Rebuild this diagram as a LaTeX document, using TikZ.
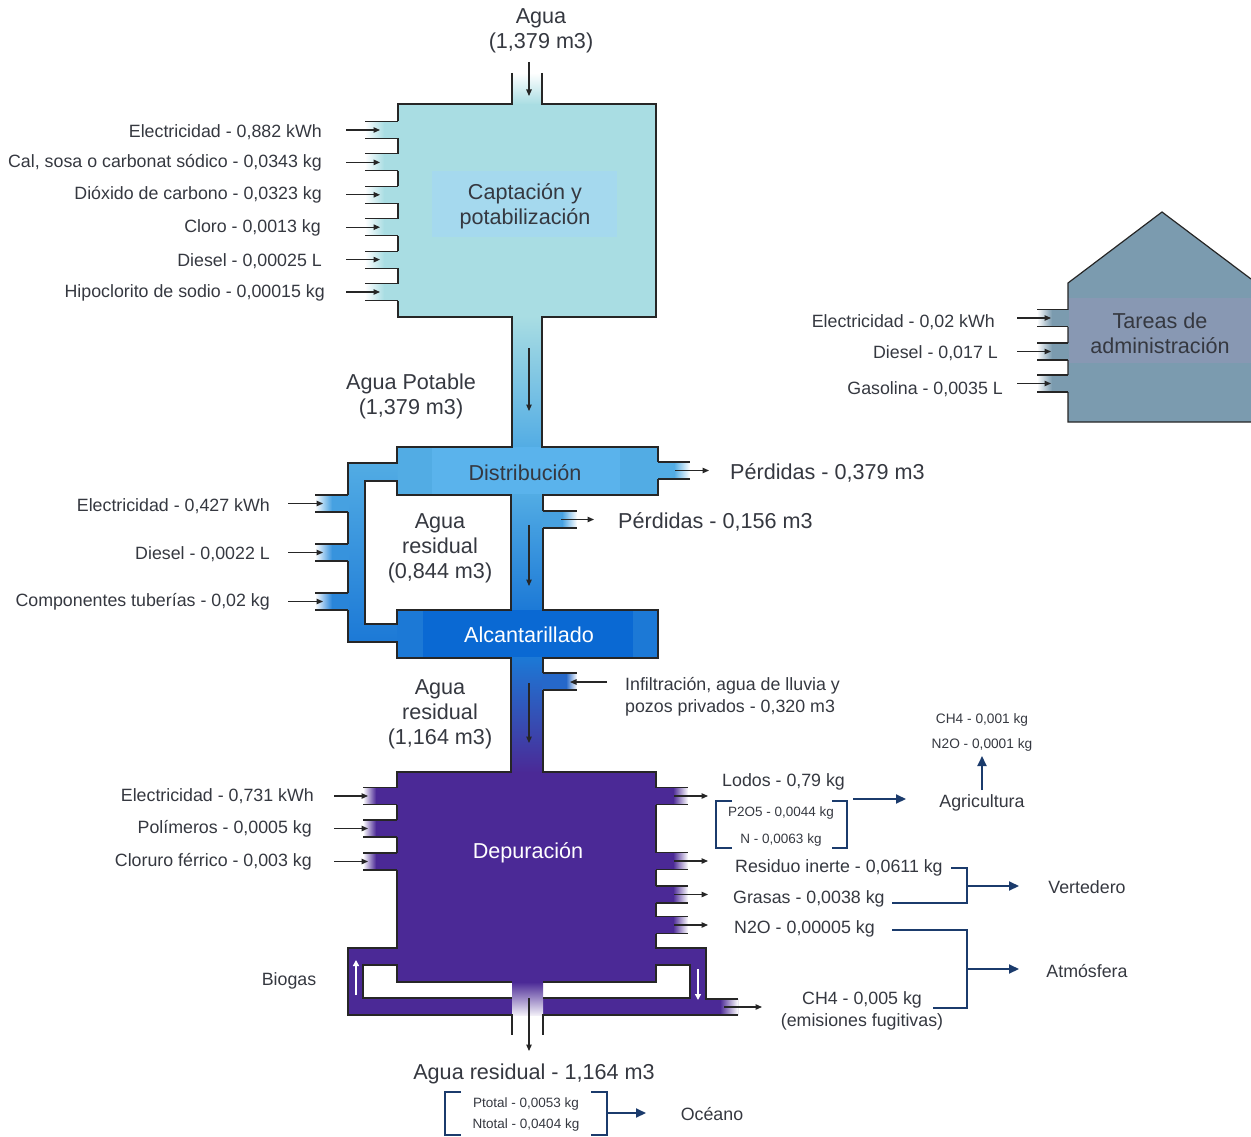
\documentclass[tikz,border=0pt]{standalone}
\usepackage{fontspec}
\setmainfont{Liberation Sans}
\usetikzlibrary{arrows.meta}

\definecolor{txt}{HTML}{353840}
\definecolor{edge}{HTML}{262626}
\definecolor{capt}{HTML}{A9DDE3}
\definecolor{captlab}{HTML}{A5D9EE}
\definecolor{dist}{HTML}{52ACE4}
\definecolor{distlab}{HTML}{5AB3EC}
\definecolor{alc}{HTML}{1C79D6}
\definecolor{alclab}{HTML}{0A69D3}
\definecolor{dep}{HTML}{4B2996}
\definecolor{house}{HTML}{7B9BAF}
\definecolor{houselab}{HTML}{8898B3}
\definecolor{navy}{HTML}{1B3B6C}

\newcommand{\stubLeft}[5]{%
  \shade[left color=white,right color=#4] (#1,#3-8.5) rectangle (#5,#3+8.5);
  \fill[#4] (#5-0.3,#3-8.5) rectangle (#2,#3+8.5);
  \draw[wall] (#1,#3-8.5) -- (#2-1,#3-8.5) (#1,#3+8.5) -- (#2-1,#3+8.5);}
\newcommand{\stubRight}[5]{%
  \fill[#4] (#1,#3-8.5) rectangle (#5+0.3,#3+8.5);
  \shade[left color=#4,right color=white] (#5,#3-8.5) rectangle (#2,#3+8.5);
  \draw[wall] (#1+1,#3-8.5) -- (#2,#3-8.5) (#1+1,#3+8.5) -- (#2,#3+8.5);}

\tikzset{
  wall/.style={draw=edge, line width=1.2pt},
  flowarr/.style={draw=edge, line width=1.2pt, -{Triangle[length=6.5pt,width=5.5pt]}},
  whitearr/.style={draw=white, line width=2pt, -{Triangle[length=6pt,width=6pt]}},
  navyarrow/.style={draw=navy, line width=2pt, -{Triangle[length=10pt,width=9pt]}},
  brk/.style={draw=navy, line width=1.8pt},
  lblmid/.style={text=txt, font=\fontsize{17.8}{22}\selectfont, inner sep=0pt, align=left},
  lblbig/.style={text=txt, font=\fontsize{21.6}{25}\selectfont, inner sep=0pt, align=center},
  lblsmall/.style={text=txt, font=\fontsize{13.7}{21}\selectfont, inner sep=0pt, align=center},
}

\begin{document}
\begin{tikzpicture}[x=1pt,y=-1pt]
\useasboundingbox (0,0) rectangle (1251,1137);

% ================= fills =================
% Captacion
\shade[top color=white, bottom color=capt] (512,73) rectangle (542,104.5);
\fill[capt] (398,104) rectangle (656,317);
\fill[captlab] (432,171) rectangle (617,237);
\shade[top color=capt, bottom color=dist] (512,316) rectangle (542,448);
% Distribucion / Alcantarillado
\fill[dist] (397,447) rectangle (658,495);
\fill[distlab] (432,447) rectangle (620,495);
\shade[top color=dist, bottom color=alc] (348,463) -- (397.5,463) -- (397.5,481) -- (365,481) -- (365,624) -- (397.5,624) -- (397.5,642) -- (348,642) -- cycle;
\shade[top color=dist, bottom color=alc] (511,494) rectangle (543,611);
\fill[alc] (397,610) rectangle (658,658);
\fill[alclab] (423,610) rectangle (633,658);
\shade[top color=alc, bottom color=dep] (511,657) rectangle (543,773);
% Depuracion
\fill[dep] (397,772) -- (656,772) -- (656,948) -- (706,948) -- (706,999) -- (738,999) -- (738,1015) -- (348,1015) -- (348,948) -- (397,948) -- cycle;
\fill[white] (363,965) -- (397,965) -- (397,982) -- (512,982) -- (512,998) -- (363,998) -- cycle;
\fill[white] (543,982) -- (656,982) -- (656,965) -- (690,965) -- (690,998) -- (543,998) -- cycle;
\shade[top color=dep, bottom color=dep!8] (512,982) rectangle (543,1015);
\shade[left color=dep, right color=white] (720,999) rectangle (738,1015);
% House
\fill[house] (1068,422) -- (1068,283) -- (1162,212) -- (1251,279) -- (1251,422) -- cycle;
\fill[houselab] (1068,298) rectangle (1251,363);

% ================= outlines =================
\draw[wall] (512,73) -- (512,104) -- (398,104) -- (398,317) -- (512,317) -- (512,447) -- (397,447) -- (397,463) -- (348,463) -- (348,642) -- (397,642) -- (397,658) -- (511,658) -- (511,772) -- (397,772) -- (397,948) -- (348,948) -- (348,1015) -- (512,1015) -- (512,1035);
\draw[wall] (542,73) -- (542,104) -- (656,104) -- (656,317) -- (542,317) -- (542,447) -- (658,447) -- (658,495) -- (543,495) -- (543,610) -- (658,610) -- (658,658) -- (543,658) -- (543,772) -- (656,772) -- (656,948) -- (706,948) -- (706,999) -- (738,999);
\draw[wall] (738,1015) -- (543,1015) -- (543,1035);
\draw[wall] (397,495) -- (397,481) -- (365,481) -- (365,624) -- (397,624) -- (397,610) -- (511,610) -- (511,495) -- cycle;
\draw[wall] (512,982) -- (397,982) -- (397,965) -- (363,965) -- (363,998) -- (512,998);
\draw[wall] (543,998) -- (690,998) -- (690,965) -- (656,965) -- (656,982) -- (543,982);
\draw[wall] (1251,422) -- (1068,422) -- (1068,283) -- (1162,212) -- (1251,279);

% ================= stubs =================
\foreach \y in {130,162.4,194.8,227.2,259.6,292}{\stubLeft{365}{399}{\y}{capt}{384}}
\stubLeft{315}{349}{503.5}{alc!22!dist}{332}
\stubLeft{315}{349}{552.5}{alc!50!dist}{332}
\stubLeft{315}{349}{601.5}{alc!77!dist}{332}
\stubRight{657}{690}{470.5}{dist}{674}
\stubRight{542}{577}{519.5}{alc!21!dist}{562}
\stubRight{542}{577}{681.5}{dep!21!alc}{566}
\foreach \y in {796,828.5,861.5}{\stubLeft{363}{398}{\y}{dep}{376}}
\foreach \y in {796,861,894.5,925}{\stubRight{655}{688}{\y}{dep}{673}}
\foreach \y in {318,351.5,383.5}{\stubLeft{1037}{1069}{\y}{house}{1052}}

% ================= flow arrows =================
\coordinate (inA) at (529,62);   \coordinate (inB) at (529,96);
\coordinate (p1A) at (529,348);  \coordinate (p1B) at (529,411);
\coordinate (p2A) at (529,525);  \coordinate (p2B) at (529,586);
\coordinate (p3A) at (529,683);  \coordinate (p3B) at (529,743);
\coordinate (p4A) at (529,998);  \coordinate (p4B) at (529,1051);
\draw[flowarr] (inA) -- (inB);
\draw[flowarr] (p1A) -- (p1B);
\draw[flowarr] (p2A) -- (p2B);
\draw[flowarr] (p3A) -- (p3B);
\draw[flowarr] (p4A) -- (p4B);
\foreach \y [count=\i] in {130,162.4,194.8,227.2,259.6,292}{
  \coordinate (ca\i) at (346,\y); \coordinate (cb\i) at (380,\y);
  \draw[flowarr] (ca\i) -- (cb\i);}
\foreach \y [count=\i] in {503.5,552.5,601.5}{
  \coordinate (da\i) at (288,\y); \coordinate (db\i) at (323,\y);
  \draw[flowarr] (da\i) -- (db\i);}
\foreach \y [count=\i] in {796,828.5,861.5}{
  \coordinate (ea\i) at (334,\y); \coordinate (eb\i) at (368,\y);
  \draw[flowarr] (ea\i) -- (eb\i);}
\foreach \y [count=\i] in {796,861,894.5,925}{
  \coordinate (fa\i) at (674,\y); \coordinate (fb\i) at (708,\y);
  \draw[flowarr] (fa\i) -- (fb\i);}
\foreach \y [count=\i] in {318,351.5,383.5}{
  \coordinate (ha\i) at (1017,\y); \coordinate (hb\i) at (1051,\y);
  \draw[flowarr] (ha\i) -- (hb\i);}
\coordinate (pdA) at (675,470.5); \coordinate (pdB) at (709,470.5);
\draw[flowarr] (pdA) -- (pdB);
\coordinate (pcA) at (561,519.5); \coordinate (pcB) at (594,519.5);
\draw[flowarr] (pcA) -- (pcB);
\coordinate (ifA) at (607,682); \coordinate (ifB) at (570,682);
\draw[flowarr] (ifA) -- (ifB);
\coordinate (bgA) at (724,1007); \coordinate (bgB) at (762,1007);
\draw[flowarr] (bgA) -- (bgB);
% biogas white arrows
\coordinate (wlA) at (356,995); \coordinate (wlB) at (356,960);
\coordinate (wrA) at (698,969); \coordinate (wrB) at (698,1000);
\draw[whitearr] (wlA) -- (wlB);
\draw[whitearr] (wrA) -- (wrB);

% ================= texts =================
\node[lblbig] (agua) at (541,31) {Agua\\(1,379 m3)};
\node[lblbig] (capl) at (525,206) {Captación y\\potabilización};
\node[lblbig] (potable) at (411,396) {Agua Potable\\(1,379 m3)};
\node[lblbig] (distl) at (525,473) {Distribución};
\node[lblbig, text=white] (alcl) at (529,635) {Alcantarillado};
\node[lblbig] (res1) at (440,548) {Agua\\residual\\(0,844 m3)};
\node[lblbig] (res2) at (440,714) {Agua\\residual\\(1,164 m3)};
\node[lblbig, text=white] (depl) at (528,853) {Depuración};
\node[lblbig] (tareas) at (1160,333) {Tareas de\\administración};
\node[lblbig, anchor=west] (perd1) at (730,473) {Pérdidas - 0,379 m3};
\node[lblbig, anchor=west] (perd2) at (618,522) {Pérdidas - 0,156 m3};
\node[lblbig] (resout) at (534,1074) {Agua residual - 1,164 m3};

\node[lblmid, anchor=east] (lc1) at (322,132) {Electricidad - 0,882 kWh};
\node[lblmid, anchor=east] (lc2) at (322,163) {Cal, sosa o carbonat sódico - 0,0343 kg};
\node[lblmid, anchor=east] (lc3) at (322,195) {Dióxido de carbono - 0,0323 kg};
\node[lblmid, anchor=east] (lc4) at (321,228) {Cloro - 0,0013 kg};
\node[lblmid, anchor=east] (lc5) at (322,261) {Diesel - 0,00025 L};
\node[lblmid, anchor=east] (lc6) at (325,293) {Hipoclorito de sodio - 0,00015 kg};
\node[lblmid, anchor=east] (ld1) at (270,506) {Electricidad - 0,427 kWh};
\node[lblmid, anchor=east] (ld2) at (270,554) {Diesel - 0,0022 L};
\node[lblmid, anchor=east] (ld3) at (270,602) {Componentes tuberías - 0,02 kg};
\node[lblmid, anchor=east] (le1) at (314,796) {Electricidad - 0,731 kWh};
\node[lblmid, anchor=east] (le2) at (312,829) {Polímeros - 0,0005 kg};
\node[lblmid, anchor=east] (le3) at (312,862) {Cloruro férrico - 0,003 kg};
\node[lblmid, anchor=east] (lh1) at (995,322) {Electricidad - 0,02 kWh};
\node[lblmid, anchor=east] (lh2) at (998,353) {Diesel - 0,017 L};
\node[lblmid, anchor=east] (lh3) at (1003,389) {Gasolina - 0,0035 L};
\node[lblmid, anchor=west] (infl) at (625,697) {Infiltración, agua de lluvia y\\pozos privados - 0,320 m3};
\node[lblmid] (biogas) at (289,981) {Biogas};
\node[lblmid, anchor=west] (lodos) at (722,782) {Lodos - 0,79 kg};
\node[lblmid, anchor=west] (resin) at (735,868) {Residuo inerte - 0,0611 kg};
\node[lblmid, anchor=west] (grasas) at (733,899) {Grasas - 0,0038 kg};
\node[lblmid, anchor=west] (ntwo) at (734,929) {N2O - 0,00005 kg};
\node[lblmid, align=center] (chfour) at (862,1011) {CH4 - 0,005 kg\\(emisiones fugitivas)};
\node[lblmid] (agri) at (982,803) {Agricultura};
\node[lblmid] (verte) at (1087,887) {Vertedero};
\node[lblmid] (atmo) at (1087,971) {Atmósfera};
\node[lblmid] (ocea) at (712,1114) {Océano};

\node[lblsmall, font=\fontsize{13.7}{25}\selectfont] (agrigas) at (982,732) {CH4 - 0,001 kg\\N2O - 0,0001 kg};
\node[lblsmall, font=\fontsize{13.5}{27}\selectfont] (lodcomp) at (781,827) {P2O5 - 0,0044 kg\\N - 0,0063 kg};
\node[lblsmall, font=\fontsize{13.5}{21}\selectfont] (ocecomp) at (526,1115) {Ptotal - 0,0053 kg\\Ntotal - 0,0404 kg};

% ================= navy brackets and arrows =================
\draw[brk] (732,801) -- (716,801) -- (716,848) -- (732,848);
\draw[brk] (832,801) -- (847,801) -- (847,848) -- (832,848);
\coordinate (loA) at (853,799); \coordinate (loB) at (906,799);
\draw[navyarrow] (loA) -- (loB);
\coordinate (agA) at (982,790); \coordinate (agB) at (982,756);
\draw[navyarrow] (agA) -- (agB);
\draw[brk] (951,868) -- (967,868) -- (967,903) -- (892,903);
\coordinate (veA) at (967,886); \coordinate (veB) at (1019,886);
\draw[navyarrow] (veA) -- (veB);
\draw[brk] (892,930) -- (967,930) -- (967,1008) -- (933,1008);
\coordinate (atA) at (967,969); \coordinate (atB) at (1019,969);
\draw[navyarrow] (atA) -- (atB);
\draw[brk] (461,1092) -- (445,1092) -- (445,1135) -- (461,1135);
\draw[brk] (591,1092) -- (607,1092) -- (607,1135) -- (591,1135);
\coordinate (ocA) at (607,1113); \coordinate (ocB) at (646,1113);
\draw[navyarrow] (ocA) -- (ocB);
\end{tikzpicture}
\end{document}
